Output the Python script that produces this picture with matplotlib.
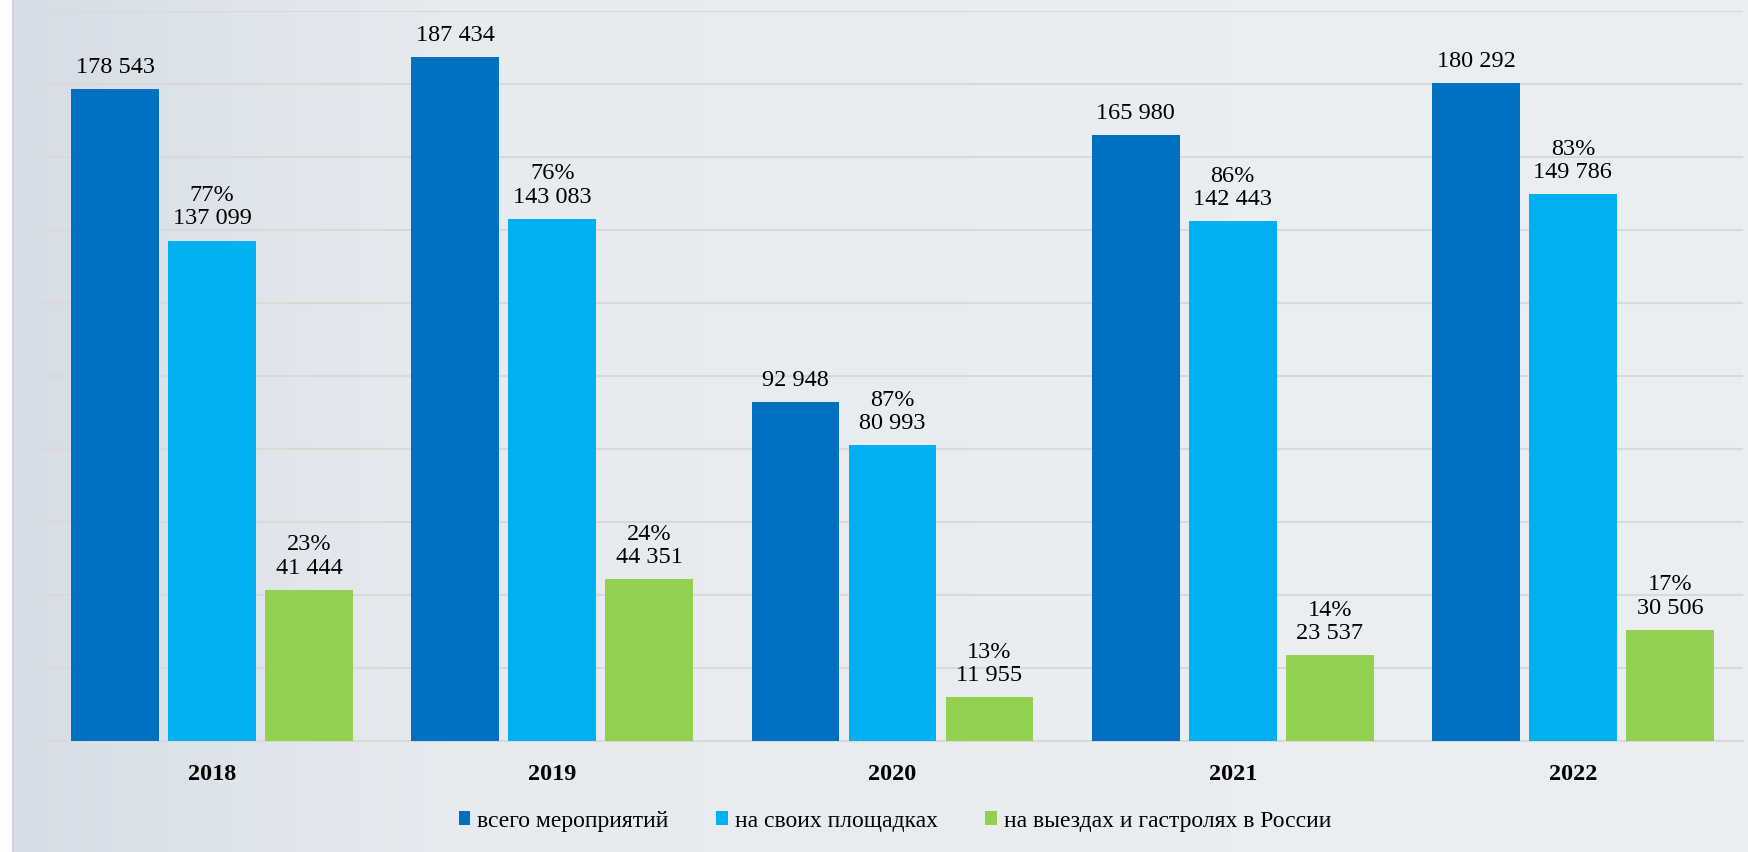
import numpy as np
import matplotlib
matplotlib.use("Agg")
import matplotlib.pyplot as plt
from matplotlib.colors import LinearSegmentedColormap

years = ["2018", "2019", "2020", "2021", "2022"]
total = [178543, 187434, 92948, 165980, 180292]
own_venues = [137099, 143083, 80993, 142443, 149786]
tours = [41444, 44351, 11955, 23537, 30506]
own_pct = ["77%", "76%", "87%", "86%", "83%"]
tours_pct = ["23%", "24%", "13%", "14%", "17%"]
series_names = ["всего мероприятий", "на своих площадках",
                "на выездах и гастролях в России"]

colors = ["#0070C0", "#00B0F0", "#92D050"]

plt.rcParams["font.family"] = ["Liberation Serif", "DejaVu Serif"]


def fmt(v):
    return f"{v:,}".replace(",", " ")


def main():
    fig = plt.figure(figsize=(17.49, 8.52), dpi=100)
    fig.patch.set_facecolor("white")

    # soft gradient backdrop
    bg = fig.add_axes([12 / 1749, 0, 1 - 12 / 1749, 1], zorder=0)
    cmap = LinearSegmentedColormap.from_list(
        "bg", [(0, "#D6DDE6"), (0.25, "#E7EBF0"), (1, "#ECEFF2")])
    bg.imshow(np.linspace(0, 1, 256)[None, :], aspect="auto", cmap=cmap,
              extent=[0, 1, 0, 1])
    bg.axvline(0, color="#CFD3D8", lw=2)
    bg.set_axis_off()

    ax = fig.add_axes([42 / 1749, 111 / 852, (1743 - 42) / 1749, 730 / 852],
                      zorder=1)
    ax.patch.set_alpha(0)

    x = np.arange(len(years))
    width = 0.258
    pitch = 0.285
    data = [total, own_venues, tours]
    for i, vals in enumerate(data):
        ax.bar(x + (i - 1) * pitch, vals, width, color=colors[i],
               label=series_names[i], zorder=3)

    fs = 17.5
    for xi, v in zip(x, total):
        ax.annotate(fmt(v), (xi - pitch, v), xytext=(0, 8),
                    textcoords="offset points", ha="center", va="bottom",
                    fontsize=fs)
    for xi, v, p in zip(x, own_venues, own_pct):
        ax.annotate(p + "\n" + fmt(v), (xi, v), xytext=(0, 8),
                    textcoords="offset points", ha="center", va="bottom",
                    fontsize=fs, linespacing=1.15)
    for xi, v, p in zip(x, tours, tours_pct):
        ax.annotate(p + "\n" + fmt(v), (xi + pitch, v), xytext=(0, 8),
                    textcoords="offset points", ha="center", va="bottom",
                    fontsize=fs, linespacing=1.15)

    ax.set_xlim(-0.5, 4.5)
    ax.set_ylim(0, 200000)
    ax.set_yticks(np.arange(0, 200001, 20000))
    ax.yaxis.grid(True, color="#D9D9D9", lw=1.5, zorder=0)
    ax.tick_params(axis="y", left=False, labelleft=False)
    ax.tick_params(axis="x", bottom=False, pad=13)
    ax.set_xticks(x)
    ax.set_xticklabels(years, fontsize=17.5, fontweight="bold")
    for s in ["top", "right", "left"]:
        ax.spines[s].set_visible(False)
    ax.spines["bottom"].set_color("#D9D9D9")
    ax.spines["bottom"].set_linewidth(1.5)

    fig.legend(loc="center", bbox_to_anchor=(895 / 1749, 1 - 821 / 852),
               ncol=3, frameon=False, fontsize=17, handlelength=0.5,
               handleheight=0.5, handletextpad=0.3, columnspacing=2.0)

    fig.savefig("out.png", dpi=100, facecolor=fig.get_facecolor())


if __name__ == "__main__":
    main()
